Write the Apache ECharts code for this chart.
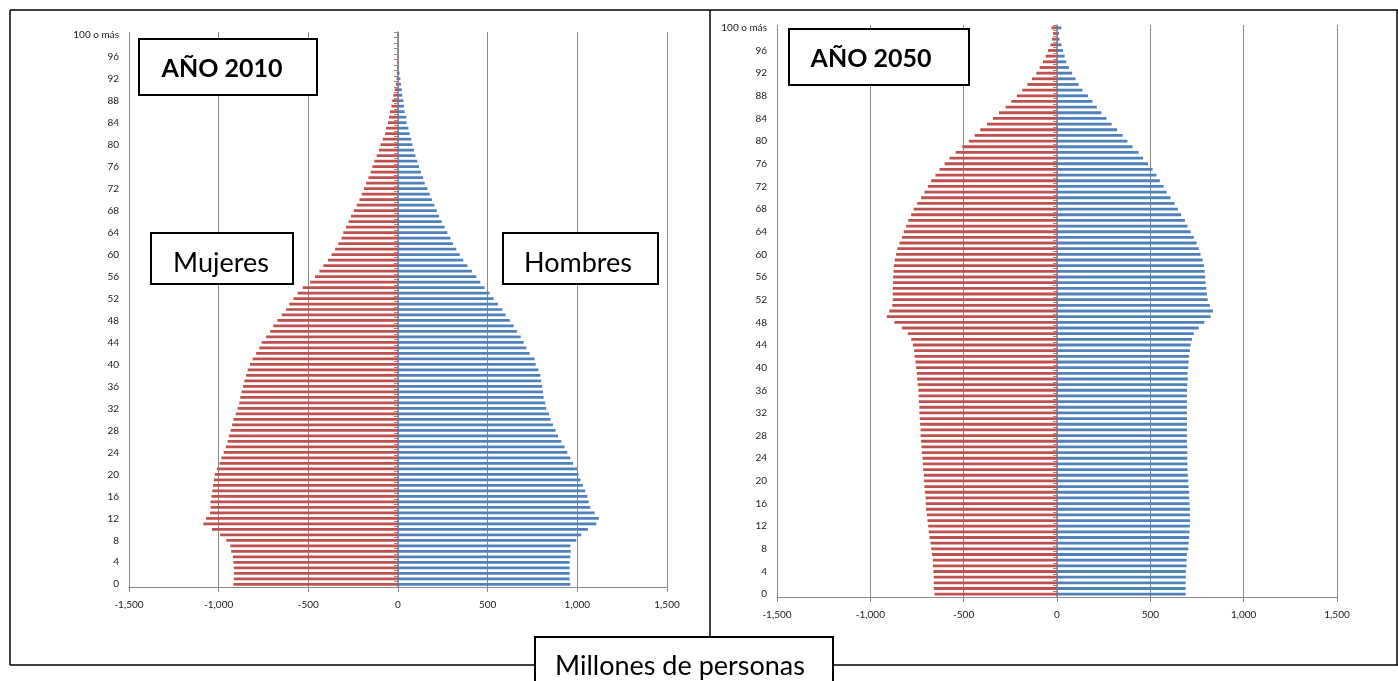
<!DOCTYPE html>
<html>
<head>
<meta charset="utf-8">
<script src="https://cdn.jsdelivr.net/npm/echarts@6/dist/echarts.min.js"></script>
<style>
html,body{margin:0;padding:0;background:#fff;}
#chart{width:1398px;height:681px;}
</style>
</head>
<body>
<div id="chart"></div>
<script>
const ages = ["0","1","2","3","4","5","6","7","8","9","10","11","12","13","14","15","16","17","18","19","20","21","22","23","24","25","26","27","28","29","30","31","32","33","34","35","36","37","38","39","40","41","42","43","44","45","46","47","48","49","50","51","52","53","54","55","56","57","58","59","60","61","62","63","64","65","66","67","68","69","70","71","72","73","74","75","76","77","78","79","80","81","82","83","84","85","86","87","88","89","90","91","92","93","94","95","96","97","98","99","100 o más"];

const mujeres2010 = [-918,-915,-914,-915,-918,-921,-930,-935,-957,-992,
 -1038,-1085,-1070,-1048,-1045,-1045,-1040,-1036,-1031,-1026,
 -1022,-1010,-995,-985,-972,-960,-950,-943,-933,-925,
 -917,-905,-895,-885,-880,-872,-864,-857,-847,-838,
 -825,-810,-791,-773,-760,-735,-713,-695,-673,-648,
 -624,-606,-583,-559,-531,-490,-463,-438,-416,-390,
 -370,-351,-333,-315,-305,-290,-275,-262,-246,-230,
 -215,-202,-190,-178,-165,-152,-143,-132,-119,-106,
 -97,-85,-72,-67,-56,-50,-45,-36,-32,-26,
 -18,-12,-8,-6,-5,-4,-3,-2,-2,-1,-2];

const hombres2010 = [961,957,957,957,957,961,963,961,994,1022,
 1059,1106,1120,1096,1072,1063,1056,1044,1031,1018,
 1007,998,976,961,944,929,911,892,879,864,
 851,842,827,821,812,808,804,799,794,783,
 768,762,734,716,701,684,664,645,623,600,
 582,557,533,511,483,459,437,412,387,364,
 344,325,307,292,275,260,244,229,216,203,
 189,177,164,149,140,128,117,108,97,89,
 80,74,65,58,48,46,37,33,30,24,
 21,17,13,9,3,2,1,1,1,0,1];

const mujeres2050 = [-656,-660,-660,-660,-662,-665,-665,-669,-674,-678,
 -683,-687,-690,-694,-697,-701,-703,-704,-708,-710,
 -712,-713,-717,-719,-720,-724,-726,-728,-731,-731,
 -733,-735,-737,-737,-740,-741,-742,-746,-749,-751,
 -755,-758,-763,-765,-772,-781,-799,-831,-871,-912,
 -898,-883,-880,-880,-880,-878,-878,-876,-874,-869,
 -862,-855,-844,-831,-821,-808,-797,-781,-767,-749,
 -728,-710,-692,-674,-651,-629,-602,-576,-543,-507,
 -472,-441,-411,-375,-343,-311,-275,-245,-215,-186,
 -159,-134,-111,-93,-75,-61,-48,-35,-27,-21,-30];

const hombres2050 = [689,689,689,690,690,694,694,696,703,705,
 708,710,712,712,712,712,710,708,708,705,
 703,701,699,699,698,698,698,696,696,696,
 696,696,696,696,696,696,697,698,701,699,
 703,705,708,712,716,723,733,759,789,823,
 835,819,807,803,800,796,794,791,787,780,
 769,759,748,733,716,699,685,665,648,630,
 608,587,571,551,533,512,488,461,437,404,
 378,351,322,293,265,238,213,190,166,136,
 116,99,81,64,50,41,32,24,14,11,24];

const xTicks = {min: -1500, max: 1500, interval: 500};

const RED = '#C0504D', BLUE = '#4F81BD', GRID = '#8a8a8a';
const FONT = 'Lato, "Open Sans", sans-serif';
const TICKFONT = '"Liberation Sans Narrow", Lato, sans-serif';

function xAxisDef(gi) {
  return {
    type: 'value', gridIndex: gi, min: xTicks.min, max: xTicks.max, interval: xTicks.interval,
    axisLine: {show: true, onZero: false, lineStyle: {color: GRID, width: 1}},
    axisTick: {show: true, length: 5, lineStyle: {color: GRID}},
    splitLine: {show: true, lineStyle: {color: GRID, width: 1}},
    axisLabel: {fontSize: 10, color: '#222', fontFamily: TICKFONT, margin: 13,
      formatter: v => v.toLocaleString('en-US')}
  };
}
function yLabelAxis(gi) {
  return {
    type: 'category', gridIndex: gi, data: ages, position: 'left',
    axisLine: {show: false, onZero: false}, axisTick: {show: false}, splitLine: {show: false},
    axisLabel: {interval: 3, fontSize: 10, color: '#222', fontFamily: TICKFONT, margin: 10}
  };
}
function yZeroAxis(gi) {
  return {
    type: 'category', gridIndex: gi, data: ages, position: 'left',
    axisLine: {show: true, onZero: true, onZeroAxisIndex: gi, lineStyle: {color: GRID, width: 1.5}},
    axisTick: {show: true, interval: 0, length: 4, lineStyle: {color: GRID}},
    axisLabel: {show: false}, splitLine: {show: false}
  };
}
function bars(name, data, color, xi, yi) {
  return {
    name: name, type: 'bar', xAxisIndex: xi, yAxisIndex: yi, data: data,
    barWidth: '50%', barGap: '-100%', itemStyle: {color: color}, silent: true
  };
}

const chart = echarts.init(document.getElementById('chart'), null, {renderer: 'canvas'});

function box(x, y, w, h) {
  return {type: 'rect', shape: {x: x, y: y, width: w, height: h}, z: 100,
    style: {fill: '#fff', stroke: '#000', lineWidth: 2}};
}
function label(text, x, y, size, weight) {
  return {type: 'text', z: 101, style: {text: text, x: x, y: y, fill: '#000',
    font: weight + ' ' + size + 'px ' + FONT, textAlign: 'center', textVerticalAlign: 'middle'}};
}
function line(x1, y1, x2, y2) {
  return {type: 'line', shape: {x1: x1, y1: y1, x2: x2, y2: y2}, z: 90,
    style: {stroke: '#000', lineWidth: 1.5}};
}

chart.setOption({
  animation: false,
  backgroundColor: '#fff',
  grid: [
    {left: 129, top: 32, width: 538, height: 555},
    {left: 777, top: 25, width: 560, height: 572}
  ],
  xAxis: [xAxisDef(0), xAxisDef(1)],
  yAxis: [yLabelAxis(0), yZeroAxis(0), yLabelAxis(1), yZeroAxis(1)],
  series: [
    bars('Mujeres 2010', mujeres2010, RED, 0, 0),
    bars('Hombres 2010', hombres2010, BLUE, 0, 0),
    bars('Mujeres 2050', mujeres2050, RED, 1, 2),
    bars('Hombres 2050', hombres2050, BLUE, 1, 2)
  ],
  graphic: [
    line(10, 10, 1398, 10),
    line(10, 10, 10, 665),
    line(710, 10, 710, 665),
    line(1397, 10, 1397, 665),
    line(10, 665, 1398, 665),
    box(139, 39, 178, 56), label('AÑO 2010', 222, 69, 25, 'bold'),
    box(151, 233, 142, 51), label('Mujeres', 221, 263, 27, 'normal'),
    box(503, 233, 155, 51), label('Hombres', 578, 263, 27, 'normal'),
    box(789, 29, 180, 56), label('AÑO 2050', 871, 59, 25, 'bold'),
    box(535, 637, 298, 60), label('Millones de personas', 680, 666, 27, 'normal')
  ]
});
</script>
</body>
</html>
